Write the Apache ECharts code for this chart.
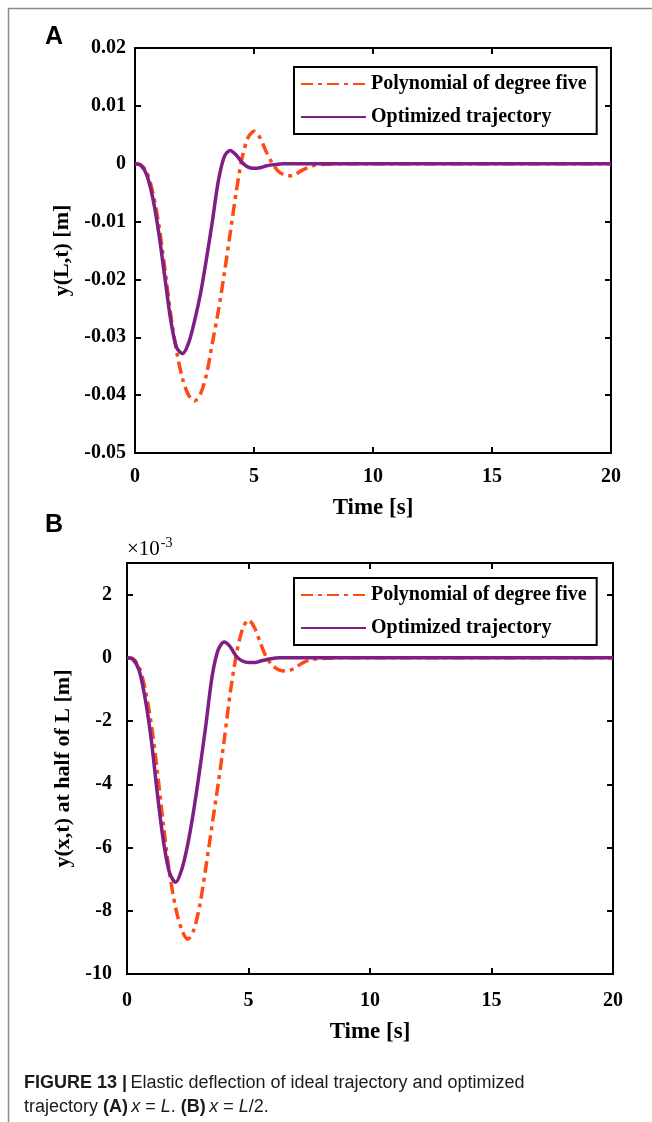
<!DOCTYPE html>
<html>
<head>
<meta charset="utf-8">
<script src="https://cdn.jsdelivr.net/npm/echarts@6/dist/echarts.min.js"></script>
<style>
html,body{margin:0;padding:0;background:#fff;}
#chart{width:652px;height:1122px;}
</style>
</head>
<body>
<div id="chart"></div>
<script>
// ---- DATA ----
const seriesNames = ['Polynomial of degree five', 'Optimized trajectory'];

// Panel A: y(L,t) [m]
const timeA = [0,0.25,0.5,0.75,1.0,1.25,1.5,1.75,2.0,2.25,2.5,2.75,3.0,3.25,3.5,3.75,4.0,4.25,4.5,4.75,5.0,5.25,5.5,5.75,6.0,6.25,6.5,6.75,7.0,7.25,7.5,8.0,9,10,12,15,20];
const polyA = [0,-0.0002,-0.0015,-0.0050,-0.0105,-0.0180,-0.0260,-0.0325,-0.0372,-0.0400,-0.0410,-0.0398,-0.0365,-0.0310,-0.0255,-0.0190,-0.0120,-0.0050,0.0010,0.0045,0.0056,0.0045,0.0022,0.0002,-0.0012,-0.0019,-0.0021,-0.0018,-0.0012,-0.0007,-0.0003,-0.0001,0,0,0,0,0];
const optA  = [0,-0.0003,-0.0020,-0.0060,-0.0120,-0.0195,-0.0270,-0.0318,-0.0328,-0.0310,-0.0272,-0.0225,-0.0165,-0.0100,-0.0030,0.0012,0.0023,0.0015,0.0002,-0.0006,-0.0008,-0.0007,-0.0004,-0.0002,-0.0001,0,0,0,0,0,0,0,0,0,0,0,0];

// Panel B: y(x,t) at half of L [m], in units of 1e-3
const timeB = [0,0.25,0.5,0.75,1.0,1.25,1.5,1.75,2.0,2.25,2.5,2.75,3.0,3.25,3.5,3.75,4.0,4.25,4.5,4.75,5.0,5.25,5.5,5.75,6.0,6.25,6.5,6.75,7.0,7.25,7.5,8.0,9,10,12,15,20];
const polyB = [0,-0.03,-0.3,-1.0,-2.1,-3.6,-5.3,-6.8,-7.9,-8.6,-8.9,-8.6,-7.8,-6.6,-5.3,-4.0,-2.6,-1.1,0.1,0.9,1.2,0.95,0.45,0.0,-0.25,-0.38,-0.42,-0.38,-0.27,-0.15,-0.07,-0.02,0,0,0,0,0];
const optB  = [0,-0.05,-0.4,-1.3,-2.6,-4.3,-5.8,-6.8,-7.1,-6.7,-5.9,-4.8,-3.5,-2.1,-0.6,0.25,0.5,0.35,0.05,-0.1,-0.15,-0.15,-0.1,-0.05,-0.02,0,0,0,0,0,0,0,0,0,0,0,0];

// Axis ticks
const xTicks = [0,5,10,15,20];
const yTicksA = [-0.05,-0.04,-0.03,-0.02,-0.01,0,0.01,0.02];
const yTicksB = [-10,-8,-6,-4,-2,0,2];
const yMaxB = 3;

const colPoly = '#FF4A14';
const colOpt = '#7E1F86';
const serif = '"Liberation Serif","Times New Roman",serif';
const sans = '"Liberation Sans",Arial,sans-serif';

function pairs(t, v){ return t.map((x,i)=>[x, v[i]]); }

function fmtA(v){
  const r = Math.round(v*100)/100;
  if (r === 0) return '0';
  return r.toFixed(2);
}

const grids = [
  {left:135, right:41, top:48, height:405, show:true, borderColor:'#000', borderWidth:2},
  {left:127, right:39, top:563, height:411, show:true, borderColor:'#000', borderWidth:2}
];

function mkX(gi, pos, showLabel, name, margin, gap){
  return {
    type:'value', gridIndex:gi, position:pos,
    min:xTicks[0], max:xTicks[xTicks.length-1], interval:5,
    axisLine:{show:false, onZero:false},
    axisTick:{show:true, inside:true, length:6, lineStyle:{color:'#000', width:2}},
    splitLine:{show:false},
    axisLabel:{show:showLabel, color:'#000', fontFamily:serif, fontWeight:'bold', fontSize:20, margin:margin || 14},
    name: name || '', nameLocation:'middle', nameGap:gap || 45,
    nameTextStyle:{color:'#000', fontFamily:serif, fontWeight:'bold', fontSize:23}
  };
}
function mkY(gi, pos, showLabel, ticks, max, name, fmt, nameGap, margin){
  return {
    type:'value', gridIndex:gi, position:pos,
    min:ticks[0], max:max, interval:ticks[1]-ticks[0],
    axisLine:{show:false, onZero:false},
    axisTick:{show:true, inside:true, length:6, lineStyle:{color:'#000', width:2}},
    splitLine:{show:false},
    axisLabel:{show:showLabel, color:'#000', fontFamily:serif, fontWeight:'bold', fontSize:20, margin:margin || 9,
      formatter: fmt, showMaxLabel: ticks[ticks.length-1] === max},
    name: name || '', nameLocation:'middle', nameGap:nameGap || 60, nameRotate:90,
    nameTextStyle:{color:'#000', fontFamily:serif, fontWeight:'bold', fontSize:22}
  };
}

const lineStylePoly = {color:colPoly, width:3.5, type:[12,5,4,5]};
const lineStyleOpt = {color:colOpt, width:3.5, type:'solid'};

function legend(top){
  return {
    left:294, top:top, orient:'vertical',
    data: seriesNames,
    backgroundColor:'#fff', borderColor:'#000', borderWidth:2, borderRadius:0,
    padding:[7, 10, 7, 6],
    itemWidth:65, itemHeight:20, itemGap:13,
    selectedMode:false,
    itemStyle:{opacity:0},
    textStyle:{color:'#000', fontFamily:serif, fontWeight:'bold', fontSize:20}
  };
}

const option = {
  backgroundColor:'#fff',
  animation:false,
  grid: grids,
  xAxis:[
    mkX(0,'bottom',true,'Time [s]',14,44), mkX(0,'top',false),
    mkX(1,'bottom',true,'Time [s]',17,47), mkX(1,'top',false)
  ],
  yAxis:[
    mkY(0,'left',true,yTicksA,yTicksA[yTicksA.length-1],'y(L,t) [m]',fmtA,60,9),
    mkY(0,'right',false,yTicksA,yTicksA[yTicksA.length-1]),
    mkY(1,'left',true,yTicksB,yMaxB,'y(x,t) at half of L [m]',v=>String(v),49,15),
    mkY(1,'right',false,yTicksB,yMaxB)
  ],
  legend:[legend(67), legend(578)],
  series:[
    {name:seriesNames[0], type:'line', xAxisIndex:0, yAxisIndex:0, data:pairs(timeA,polyA), showSymbol:false, symbol:'none', smooth:0.3, lineStyle:lineStylePoly, itemStyle:{color:colPoly}, z:2},
    {name:seriesNames[1], type:'line', xAxisIndex:0, yAxisIndex:0, data:pairs(timeA,optA), showSymbol:false, symbol:'none', smooth:0.3, lineStyle:lineStyleOpt, itemStyle:{color:colOpt}, z:3},
    {name:seriesNames[0], type:'line', xAxisIndex:2, yAxisIndex:2, data:pairs(timeB,polyB), showSymbol:false, symbol:'none', smooth:0.3, lineStyle:lineStylePoly, itemStyle:{color:colPoly}, z:2},
    {name:seriesNames[1], type:'line', xAxisIndex:2, yAxisIndex:2, data:pairs(timeB,optB), showSymbol:false, symbol:'none', smooth:0.3, lineStyle:lineStyleOpt, itemStyle:{color:colOpt}, z:3}
  ],
  graphic:[
    {type:'line', shape:{x1:8, y1:8.5, x2:652, y2:8.5}, style:{stroke:'#8a8a8a', lineWidth:1.5}, silent:true},
    {type:'line', shape:{x1:8.5, y1:8, x2:8.5, y2:1122}, style:{stroke:'#8a8a8a', lineWidth:1.5}, silent:true},
    {type:'text', left:45, top:25, style:{text:'A', fill:'#000', font:'bold 25px ' + sans}},
    {type:'text', left:45, top:513, style:{text:'B', fill:'#000', font:'bold 25px ' + sans}},
    {type:'text', left:127, top:536, style:{
      text:'{a|×10}{b|-3}', rich:{
        a:{fontFamily:serif, fontSize:21, fill:'#000', verticalAlign:'bottom'},
        b:{fontFamily:serif, fontSize:14, fill:'#000', verticalAlign:'top', padding:[0,0,10,1]}
      }}},
    {type:'text', left:24, top:1074, style:{
      text:'{b|FIGURE 13 |} {n|Elastic deflection of ideal trajectory and optimized}',
      rich:{
        b:{fontFamily:sans, fontWeight:'bold', fontSize:18, fill:'#1a1a1a'},
        n:{fontFamily:sans, fontSize:18, fill:'#1a1a1a'}
      }}},
    {type:'text', left:24, top:1098, style:{
      text:'{n|trajectory }{b|(A)} {i|x}{n| = }{i|L}{n|. }{b|(B)} {i|x}{n| = }{i|L}{n|/2.}',
      rich:{
        b:{fontFamily:sans, fontWeight:'bold', fontSize:18, fill:'#1a1a1a'},
        n:{fontFamily:sans, fontSize:18, fill:'#1a1a1a'},
        i:{fontFamily:sans, fontStyle:'italic', fontSize:18, fill:'#1a1a1a'}
      }}}
  ]
};

const chart = echarts.init(document.getElementById('chart'), null, {renderer:'canvas'});
chart.setOption(option);
</script>
</body>
</html>
